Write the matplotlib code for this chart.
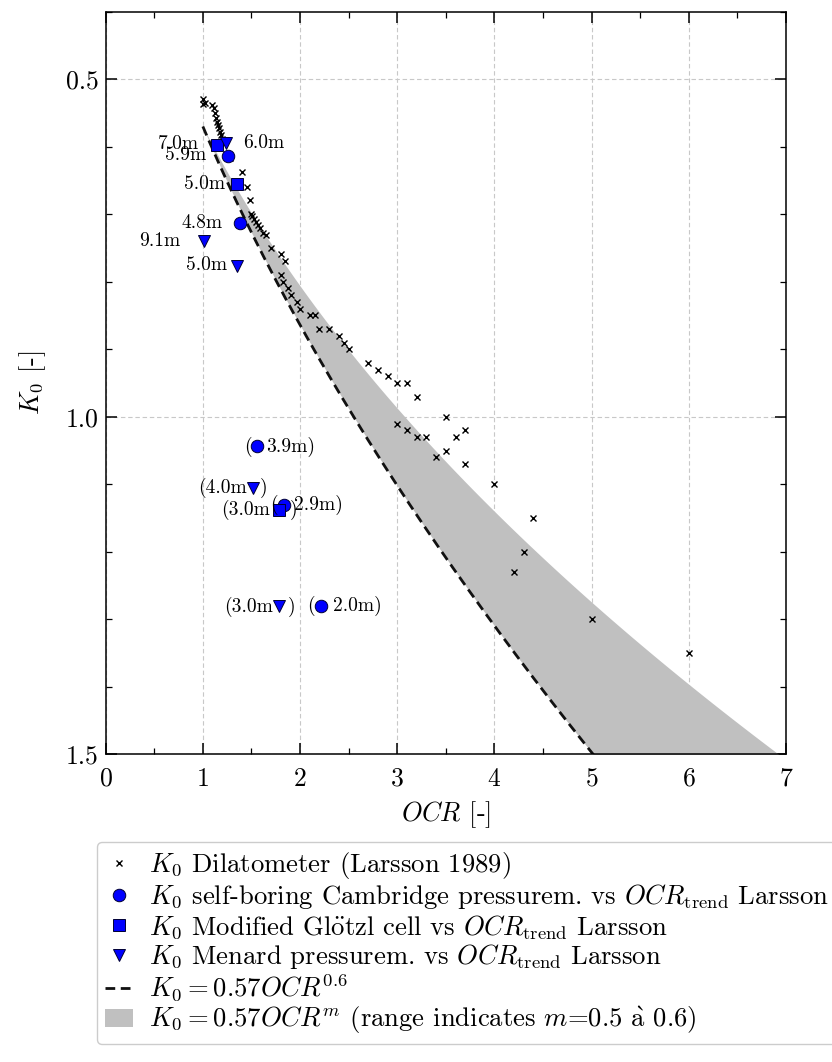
import numpy as np
import matplotlib
matplotlib.use("Agg")
import matplotlib.pyplot as plt
from matplotlib.ticker import MultipleLocator, FormatStrFormatter

plt.rcParams['font.family'] = ['cmr10', 'DejaVu Serif']
plt.rcParams['mathtext.fontset'] = 'cm'
plt.rcParams['axes.unicode_minus'] = False
plt.rcParams['axes.formatter.use_mathtext'] = True

# ---------------- data ----------------
dil_ocr = [1.00, 1.00, 1.02, 1.09, 1.11, 1.12, 1.14, 1.15, 1.16, 1.17, 1.18, 1.19, 1.20,
           1.28, 1.40, 1.45, 1.48, 1.50, 1.51, 1.53, 1.55, 1.57, 1.59, 1.62, 1.65, 1.70,
           1.80, 1.85, 1.80, 1.82, 1.88, 1.91, 1.97, 2.00, 2.10, 2.15, 2.20, 2.30, 2.40,
           2.45, 2.50, 2.70, 2.80, 2.90, 3.00, 3.10, 3.20, 3.50, 3.00, 3.10, 3.20, 3.30,
           3.70, 3.60, 3.50, 3.40, 3.70, 4.00, 4.40, 4.30, 4.20, 5.00, 6.00]
dil_k0 = [0.529, 0.537, 0.535, 0.538, 0.543, 0.550, 0.557, 0.563, 0.568, 0.573, 0.578, 0.583, 0.588,
          0.617, 0.638, 0.659, 0.679, 0.700, 0.703, 0.707, 0.711, 0.716, 0.721, 0.728, 0.731, 0.750,
          0.759, 0.769, 0.790, 0.800, 0.810, 0.820, 0.830, 0.840, 0.850, 0.850, 0.870, 0.870, 0.880,
          0.890, 0.900, 0.920, 0.930, 0.940, 0.950, 0.950, 0.970, 1.000, 1.010, 1.020, 1.030, 1.030,
          1.020, 1.030, 1.050, 1.060, 1.070, 1.100, 1.150, 1.200, 1.230, 1.300, 1.350]

cam_ocr = [1.26, 1.38, 1.56, 1.83, 2.22]
cam_k0 = [0.614, 0.713, 1.044, 1.131, 1.280]
cam_depth = ['5.9m', '4.8m', '3.9m', '2.9m', '2.0m']

glo_ocr = [1.15, 1.35, 1.78]
glo_k0 = [0.597, 0.655, 1.138]
glo_depth = ['7.0m', '5.0m', '3.0m']

men_ocr = [1.24, 1.01, 1.35, 1.52, 1.78]
men_k0 = [0.594, 0.740, 0.776, 1.105, 1.281]
men_depth = ['6.0m', '9.1m', '5.0m', '4.0m', '3.0m']

trend_coef = 0.57
m_low, m_high = 0.5, 0.6
ocr_start, ocr_end = 1.0, 7.0

x_ticks = [0, 1, 2, 3, 4, 5, 6, 7]
y_ticks = [0.5, 1.0, 1.5]

# ---------------- figure ----------------
fig = plt.figure(figsize=(8.32, 10.62), dpi=100)
ax = fig.add_axes([0.127, 0.2897, 0.8177, 0.6993])

ocr_curve = np.linspace(ocr_start, ocr_end, 400)
k_low = trend_coef * ocr_curve ** m_low
k_high = trend_coef * ocr_curve ** m_high

ax.fill_between(ocr_curve, k_low, k_high, color='#c0c0c0', lw=0, zorder=1,
                label=r'$K_0 = 0.57OCR^{m}$ (range indicates $m$=0.5 $\grave{\mathrm{a}}$ 0.6)')
ax.plot(ocr_curve, k_high, color='#111111', lw=2.0, ls=(0, (3.5, 2.0)), zorder=2,
        label=r'$K_0 = 0.57OCR^{0.6}$')

h_dil, = ax.plot(dil_ocr, dil_k0, ls='none', marker='x', color='black', ms=5, mew=1.0,
                 zorder=3, label=r'$K_0$ Dilatometer (Larsson 1989)')
h_cam, = ax.plot(cam_ocr, cam_k0, ls='none', marker='o', mfc='#0000ff', mec='#000033', ms=9,
                 mew=0.7, zorder=4,
                 label=r'$K_0$ self-boring Cambridge pressurem. vs $OCR_{\mathrm{trend}}$ Larsson')
h_glo, = ax.plot(glo_ocr, glo_k0, ls='none', marker='s', mfc='#0000ff', mec='#000033', ms=9,
                 mew=0.7, zorder=4,
                 label=r'$K_0$ Modified Gl$\ddot{\mathrm{o}}$tzl cell vs $OCR_{\mathrm{trend}}$ Larsson')
h_men, = ax.plot(men_ocr, men_k0, ls='none', marker='v', mfc='#0000ff', mec='#000033', ms=9,
                 mew=0.7, zorder=4,
                 label=r'$K_0$ Menard pressurem. vs $OCR_{\mathrm{trend}}$ Larsson')

# ---------------- annotations ----------------
fs_ann = 14

def lab_left(x, y, s, gap, dy=0):
    ax.annotate(s, (x, y), xytext=(-gap, dy), textcoords='offset points',
                ha='right', va='center', fontsize=fs_ann, zorder=5)

def lab_right(x, y, s, gap, dy=0):
    ax.annotate(s, (x, y), xytext=(gap, dy), textcoords='offset points',
                ha='left', va='center', fontsize=fs_ann, zorder=5)

def lab_paren(x, y, pre, post, gl, gr):
    ax.annotate(pre, (x, y), xytext=(-gl, 0), textcoords='offset points',
                ha='right', va='center', fontsize=fs_ann, zorder=5)
    ax.annotate(post, (x, y), xytext=(gr, 0), textcoords='offset points',
                ha='left', va='center', fontsize=fs_ann, zorder=5)

# Cambridge
lab_left(cam_ocr[0], cam_k0[0], cam_depth[0], 16, 0.5)
lab_left(cam_ocr[1], cam_k0[1], cam_depth[1], 12)
lab_paren(cam_ocr[2], cam_k0[2], '(', cam_depth[2] + ')', 4, 6.5)
lab_paren(cam_ocr[3], cam_k0[3], '(', cam_depth[3] + ')', 4, 7.5)
lab_paren(cam_ocr[4], cam_k0[4], '(', cam_depth[4] + ')', 5, 8)
# Glotzl
lab_left(glo_ocr[0], glo_k0[0], glo_depth[0], 13.5, 0.5)
lab_left(glo_ocr[1], glo_k0[1], glo_depth[1], 8.5)
lab_paren(glo_ocr[2], glo_k0[2], '(' + glo_depth[2], ')', 6, 8)
# Menard
lab_right(men_ocr[0], men_k0[0], men_depth[0], 12)
lab_left(men_ocr[1], men_k0[1], men_depth[1], 17)
lab_left(men_ocr[2], men_k0[2], men_depth[2], 7)
lab_paren(men_ocr[3], men_k0[3], '(' + men_depth[3], ')', 4.5, 4.5)
lab_paren(men_ocr[4], men_k0[4], '(' + men_depth[4], ')', 4, 6.5)

# ---------------- axes styling ----------------
ax.set_xlim(0, 7)
ax.set_ylim(1.5, 0.4)
ax.set_xticks(x_ticks)
ax.set_yticks(y_ticks)
ax.xaxis.set_minor_locator(MultipleLocator(0.5))
ax.yaxis.set_minor_locator(MultipleLocator(0.1))
ax.yaxis.set_major_formatter(FormatStrFormatter('%.1f'))
ax.tick_params(which='both', direction='in', top=True, right=True)
ax.tick_params(which='major', length=8, width=1.1, labelsize=18.5)
ax.tick_params(which='minor', length=4, width=0.9)
ax.tick_params(axis='x', which='major', pad=9)
ax.tick_params(axis='y', which='major', pad=5)
for sp in ax.spines.values():
    sp.set_linewidth(1.1)
ax.grid(True, which='major', color='#c8c8c8', lw=0.8, ls=(0, (4, 2.5)))
ax.set_axisbelow(True)

ax.set_xlabel(r'$OCR$ [-]', fontsize=19, labelpad=6)
ax.set_ylabel(r'$K_0$ [-]', fontsize=19, labelpad=13)

handles, labels = ax.get_legend_handles_labels()
order = [2, 3, 4, 5, 1, 0]
leg = fig.legend([handles[i] for i in order], [labels[i] for i in order],
                 loc='upper left', bbox_to_anchor=(97 / 832, 1 - 842 / 1062),
                 fontsize=19.2, frameon=True, fancybox=True, edgecolor='#cccccc',
                 framealpha=1.0, borderpad=0.3, labelspacing=0.06, handlelength=1.05,
                 handletextpad=0.6, borderaxespad=0.0)

fig.savefig('out.png', dpi=100)
